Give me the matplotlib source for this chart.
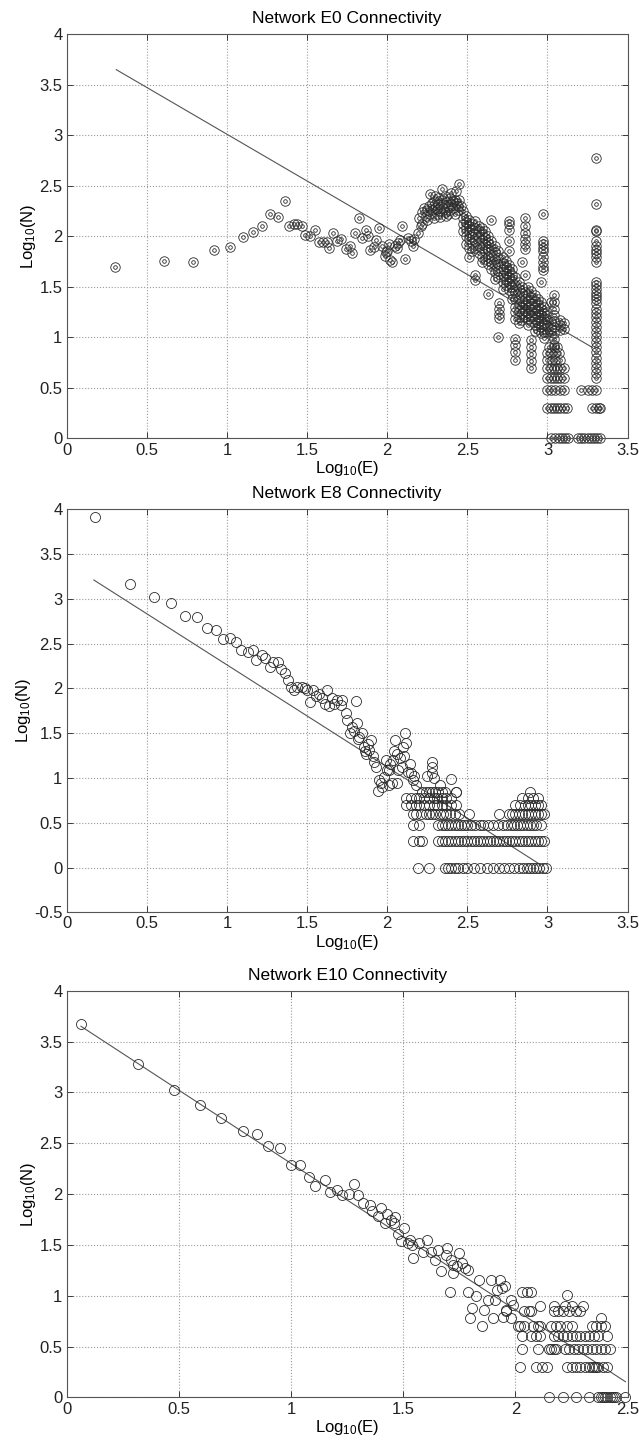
import numpy as np
import matplotlib
matplotlib.use("Agg")
import matplotlib.pyplot as plt

plt.rcParams['font.family'] = ['Liberation Sans', 'DejaVu Sans']
plt.rcParams['mathtext.fontset'] = 'custom'
plt.rcParams['mathtext.rm'] = 'Liberation Sans'
plt.rcParams['mathtext.it'] = 'Liberation Sans'

# ---------------- Network E0 ----------------
e0_fit_x = [0.31, 3.28]
e0_fit_y = [3.65, 0.90]

# sparse rise and first peak
e0_x = [0.30, 0.61, 0.79, 0.92, 1.02, 1.10, 1.16, 1.22, 1.27, 1.32, 1.36, 1.39,
        1.42, 1.44, 1.47, 1.49, 1.52, 1.55, 1.575, 1.60, 1.626, 1.64, 1.665,
        1.69, 1.715, 1.74, 1.765, 1.78, 1.80, 1.825, 1.84, 1.87, 1.88, 1.895,
        1.93, 1.95, 1.97, 1.985, 2.00, 2.02, 2.03, 2.05, 2.07, 2.09, 2.11,
        2.13, 2.16, 2.19, 2.20, 2.21, 2.22, 2.23, 2.24, 2.25, 2.26, 2.27,
        2.27, 2.28, 2.29, 2.30, 2.30, 2.31, 2.32, 2.33, 2.34, 2.34, 2.35,
        2.36, 2.37, 2.37, 2.38, 2.39, 2.39, 2.40, 2.40, 2.41, 2.42, 2.42,
        2.43, 2.43, 2.44, 2.44, 2.45, 2.45, 2.46, 2.22, 2.25, 2.28, 2.31,
        2.33, 2.35, 2.38, 2.41, 2.36, 2.32, 2.29, 2.15, 2.17, 2.06, 2.08,
        1.92, 1.99, 2.01]
e0_y = [1.70, 1.76, 1.75, 1.86, 1.89, 1.99, 2.04, 2.10, 2.22, 2.19, 2.35, 2.10,
        2.12, 2.12, 2.10, 2.01, 2.00, 2.06, 1.94, 1.94, 1.94, 1.88, 2.03,
        1.95, 1.97, 1.87, 1.90, 1.83, 2.03, 2.18, 1.98, 2.06, 2.00, 1.86,
        1.96, 2.08, 1.90, 1.81, 1.85, 1.77, 1.75, 1.90, 1.93, 2.10, 1.78,
        1.98, 1.90, 2.03, 2.18, 2.10, 2.24, 2.28, 2.20, 2.16, 2.30, 2.42,
        2.22, 2.26, 2.18, 2.40, 2.28, 2.22, 2.32, 2.25, 2.47, 2.36, 2.28,
        2.24, 2.34, 2.20, 2.30, 2.38, 2.26, 2.43, 2.32, 2.28, 2.36, 2.22,
        2.45, 2.33, 2.30, 2.26, 2.52, 2.36, 2.30, 2.12, 2.26, 2.33, 2.27,
        2.19, 2.32, 2.22, 2.35, 2.40, 2.38, 2.35, 1.95, 1.97, 1.88, 1.96,
        1.89, 1.84, 1.92]

# descending band, grouped by column
e0_band_x = [2.47, 2.49, 2.51, 2.53, 2.55, 2.57, 2.59, 2.61, 2.63, 2.65, 2.67,
             2.69, 2.70, 2.72, 2.74, 2.76, 2.78, 2.80, 2.82, 2.84, 2.86, 2.88,
             2.90, 2.92, 2.94, 2.96, 2.97, 2.98, 3.00, 3.02, 3.04, 3.08, 3.10]
e0_band_y = [
    [2.25, 2.18, 2.12, 2.05],
    [2.20, 2.14, 2.08, 2.00, 1.92],
    [2.16, 2.10, 2.04, 1.97, 1.88, 1.80],
    [2.12, 2.06, 1.99, 1.93, 1.85],
    [2.15, 2.08, 2.02, 1.95, 1.88, 1.62, 1.57],
    [2.10, 2.05, 1.98, 1.90, 1.83],
    [2.08, 2.02, 1.96, 1.88, 1.80, 1.75],
    [2.05, 1.98, 1.92, 1.85, 1.78],
    [2.00, 1.93, 1.87, 1.80, 1.73, 1.43],
    [2.16, 1.95, 1.88, 1.82, 1.75, 1.68],
    [1.90, 1.84, 1.78, 1.72, 1.65, 1.58],
    [1.85, 1.79, 1.73, 1.66, 1.60, 1.00],
    [1.34, 1.28, 1.23, 1.19],
    [1.80, 1.74, 1.68, 1.62, 1.55, 1.48],
    [1.76, 1.70, 1.64, 1.58, 1.52],
    [2.15, 2.12, 2.06, 1.95, 1.85, 1.72, 1.66, 1.60, 1.54, 1.47],
    [1.68, 1.62, 1.56, 1.50, 1.44, 1.38],
    [1.60, 1.52, 1.45, 1.38, 1.30, 1.25, 1.18, 0.98, 0.92, 0.85, 0.78],
    [1.55, 1.48, 1.40, 1.33, 1.26, 1.20, 1.14],
    [1.75, 1.50, 1.44, 1.36, 1.30, 1.24, 1.17],
    [2.18, 2.10, 2.03, 1.97, 1.92, 1.87, 1.62, 1.45, 1.38, 1.32, 1.26, 1.20],
    [1.50, 1.42, 1.36, 1.30, 1.24, 1.18, 1.12],
    [1.46, 1.40, 1.34, 1.28, 1.22, 1.16, 0.97, 0.90, 0.84, 0.77, 0.70],
    [1.42, 1.36, 1.30, 1.24, 1.18, 1.12, 1.06],
    [1.38, 1.32, 1.26, 1.20, 1.14, 1.08],
    [1.55, 1.35, 1.28, 1.22, 1.16, 1.10, 1.04],
    [2.22, 1.95, 1.92, 1.88, 1.85, 1.80, 1.75, 1.70, 1.67],
    [1.30, 1.24, 1.18, 1.12, 1.05, 0.99],
    [1.25, 1.18, 1.12, 1.05],
    [1.35, 1.15, 1.08, 1.02],
    [1.42, 1.35, 1.28, 1.22, 1.16, 1.10, 1.04, 0.98, 0.92],
    [1.17, 1.12, 1.07],
    [1.14, 1.08],
]

# discrete low-count rows (log10 of 1..8)
e0_levels = [0.0, 0.301, 0.477, 0.602, 0.699, 0.778, 0.845, 0.903]
e0_level_x = [
    [3.02, 3.05, 3.07, 3.09, 3.11, 3.13, 3.19, 3.21, 3.23, 3.25, 3.27, 3.29, 3.31, 3.33],
    [3.00, 3.02, 3.04, 3.06, 3.08, 3.10, 3.12, 3.28, 3.30, 3.32, 3.33],
    [3.00, 3.02, 3.05, 3.08, 3.10, 3.21, 3.25, 3.28, 3.30],
    [3.00, 3.02, 3.04, 3.06, 3.08, 3.10],
    [3.00, 3.02, 3.04, 3.06, 3.08, 3.10],
    [3.00, 3.03, 3.05, 3.08],
    [3.00, 3.02, 3.05, 3.07],
    [3.01, 3.04, 3.06],
]

# tall column at the far right
e0_col_x = 3.30
e0_col_y = [2.78, 2.32, 2.06, 2.05, 1.95, 1.90, 1.86, 1.83, 1.80, 1.75, 1.55, 1.52,
            1.48, 1.44, 1.41, 1.38, 1.34, 1.28, 1.24, 1.20, 1.15, 1.10, 1.05, 1.00,
            0.95, 0.90, 0.85, 0.80, 0.75, 0.70, 0.65, 0.60]

# ---------------- Network E8 ----------------
e8_fit_x = [0.17, 2.94]
e8_fit_y = [3.21, 0.05]

e8_x = [0.176, 0.396, 0.546, 0.654, 0.74, 0.814, 0.873, 0.932, 0.975, 1.02, 1.06,
        1.09, 1.13, 1.16, 1.18, 1.22, 1.24, 1.27, 1.29, 1.32, 1.34, 1.36, 1.38,
        1.40, 1.42, 1.44, 1.47, 1.49, 1.50, 1.52, 1.54, 1.555, 1.575, 1.595,
        1.61, 1.625, 1.64, 1.657, 1.67, 1.69, 1.71, 1.72, 1.74, 1.75, 1.77,
        1.78, 1.805, 1.81, 1.825, 1.84, 1.855, 1.87, 1.885, 1.90, 1.91, 1.93,
        1.945, 1.96, 1.98, 2.00, 2.01, 2.02, 2.035, 2.05, 2.06, 2.07, 2.09,
        2.105, 2.11, 2.12, 2.14, 2.15, 2.16, 2.06, 2.01, 1.97, 2.03, 2.10,
        2.13, 1.99, 2.04, 2.08, 1.95, 1.88, 1.82, 1.79, 1.86, 1.92, 2.17,
        2.18, 2.28, 2.28, 2.28, 2.29, 2.40, 2.43, 2.25, 2.33]
e8_y = [3.91, 3.16, 3.02, 2.95, 2.81, 2.80, 2.67, 2.65, 2.55, 2.56, 2.52,
        2.43, 2.41, 2.43, 2.32, 2.37, 2.34, 2.24, 2.30, 2.30, 2.22, 2.17, 2.09,
        2.02, 1.98, 2.01, 2.02, 2.00, 1.98, 1.85, 1.98, 1.91, 1.94, 1.89,
        1.83, 1.98, 1.80, 1.89, 1.83, 1.87, 1.81, 1.87, 1.72, 1.65, 1.50,
        1.57, 1.86, 1.61, 1.46, 1.50, 1.35, 1.27, 1.31, 1.42, 1.24, 1.12,
        0.85, 0.94, 1.01, 1.09, 0.92, 1.16, 1.20, 1.42, 1.27, 1.09, 1.12,
        1.24, 1.50, 1.39, 1.16, 1.05, 0.98, 0.94, 1.09, 0.90, 0.94, 1.35,
        1.07, 1.20, 1.30, 1.22, 0.98, 1.38, 1.44, 1.52, 1.30, 1.18, 1.02,
        0.92, 1.18, 1.12, 1.06, 1.00, 0.99, 0.84, 1.02, 0.92]

e8_levels = [0.0, 0.301, 0.477, 0.602, 0.699, 0.778, 0.845]
e8_level_x = [
    [2.19, 2.26, 2.36, 2.38, 2.40, 2.42, 2.44, 2.47, 2.50, 2.54, 2.58, 2.62,
     2.66, 2.70, 2.73, 2.76, 2.79, 2.82, 2.85, 2.87, 2.89, 2.91, 2.93, 2.95,
     2.97, 2.99],
    [2.16, 2.20, 2.22, 2.32, 2.34, 2.36, 2.38, 2.40, 2.42, 2.44, 2.46, 2.48,
     2.50, 2.52, 2.54, 2.56, 2.58, 2.60, 2.62, 2.64, 2.66, 2.68, 2.70, 2.72,
     2.74, 2.76, 2.78, 2.80, 2.82, 2.84, 2.86, 2.88, 2.90, 2.92, 2.94, 2.96,
     2.98],
    [2.16, 2.20, 2.32, 2.34, 2.36, 2.38, 2.40, 2.42, 2.44, 2.46, 2.48, 2.50,
     2.52, 2.55, 2.58, 2.60, 2.63, 2.66, 2.69, 2.72, 2.75, 2.77, 2.79, 2.81,
     2.83, 2.85, 2.87, 2.89, 2.91, 2.93, 2.96],
    [2.16, 2.18, 2.21, 2.24, 2.26, 2.28, 2.30, 2.33, 2.35, 2.37, 2.39, 2.42,
     2.45, 2.51, 2.70, 2.76, 2.78, 2.80, 2.82, 2.84, 2.86, 2.88, 2.90, 2.92,
     2.94, 2.96, 2.98],
    [2.12, 2.15, 2.18, 2.20, 2.23, 2.26, 2.29, 2.31, 2.34, 2.37, 2.40, 2.43,
     2.80, 2.83, 2.86, 2.88, 2.90, 2.92, 2.94, 2.96],
    [2.12, 2.15, 2.18, 2.20, 2.23, 2.26, 2.29, 2.31, 2.34, 2.37, 2.40,
     2.84, 2.88, 2.91, 2.94],
    [2.22, 2.24, 2.26, 2.28, 2.30, 2.32, 2.34, 2.36, 2.43, 2.89],
]

# ---------------- Network E10 ----------------
e10_fit_x = [0.064, 2.49]
e10_fit_y = [3.65, 0.154]

e10_x = [0.064, 0.319, 0.478, 0.593, 0.688, 0.785, 0.849, 0.898, 0.949, 1.00,
         1.04, 1.078, 1.108, 1.15, 1.173, 1.204, 1.228, 1.259, 1.279, 1.30,
         1.32, 1.35, 1.363, 1.387, 1.40, 1.418, 1.43, 1.447, 1.46, 1.465,
         1.478, 1.49, 1.505, 1.52, 1.545, 1.57, 1.587, 1.606, 1.624, 1.64,
         1.655, 1.67, 1.69, 1.697, 1.71, 1.715, 1.724, 1.74, 1.75, 1.76,
         1.775, 1.788, 1.788, 1.797, 1.807, 1.825, 1.838, 1.85, 1.86, 1.88,
         1.89, 1.90, 1.907, 1.916, 1.93, 1.943, 1.953, 1.96, 1.98, 1.99,
         2.03, 2.05, 2.07, 2.23, 2.11, 2.17, 2.22, 2.25, 2.30, 1.98, 1.96,
         2.38, 1.54, 1.53, 1.72, 1.94]
e10_y = [3.67, 3.28, 3.02, 2.88, 2.75, 2.62, 2.59, 2.47, 2.45, 2.29,
         2.29, 2.17, 2.08, 2.14, 2.02, 2.04, 1.99, 2.00, 2.10, 1.99,
         1.91, 1.89, 1.83, 1.78, 1.86, 1.71, 1.80, 1.74, 1.71, 1.77,
         1.61, 1.54, 1.67, 1.52, 1.37, 1.52, 1.43, 1.55, 1.43, 1.35,
         1.45, 1.24, 1.40, 1.47, 1.04, 1.35, 1.22, 1.29, 1.42, 1.32,
         1.27, 1.25, 1.04, 0.78, 0.875, 1.00, 1.15, 0.70, 0.86, 0.96,
         1.15, 0.78, 0.96, 1.06, 1.15, 0.79, 1.10, 0.86, 0.96, 0.91,
         1.04, 1.04, 1.04, 1.01, 0.90, 0.90, 0.90, 0.90, 0.90, 0.78, 0.85,
         0.78, 1.50, 1.55, 1.30, 1.08]

e10_levels = [0.0, 0.301, 0.477, 0.602, 0.699, 0.845]
e10_level_x = [
    [2.15, 2.21, 2.27, 2.33, 2.37, 2.38, 2.39, 2.40, 2.41, 2.42, 2.43, 2.44,
     2.45, 2.49],
    [2.02, 2.09, 2.12, 2.14, 2.23, 2.25, 2.27, 2.29, 2.31, 2.33, 2.34, 2.35,
     2.36, 2.37, 2.39, 2.41],
    [2.03, 2.10, 2.15, 2.16, 2.17, 2.18, 2.22, 2.24, 2.26, 2.28, 2.30, 2.32,
     2.34, 2.36, 2.38, 2.40, 2.42],
    [2.03, 2.07, 2.09, 2.11, 2.17, 2.19, 2.21, 2.23, 2.25, 2.27, 2.29, 2.31,
     2.33, 2.35, 2.37, 2.41],
    [2.01, 2.02, 2.04, 2.08, 2.10, 2.11, 2.16, 2.18, 2.20, 2.23, 2.25, 2.34,
     2.36, 2.38, 2.40],
    [2.04, 2.06, 2.07, 2.17, 2.19, 2.21, 2.24, 2.27, 2.29],
]

# ---------------------------------------------------------------------------
EDGE = '#2a2a2a'


def style_axes(ax, xlim, ylim, xticks, yticks, title):
    ax.set_xlim(xlim)
    ax.set_ylim(ylim)
    ax.set_xticks(xticks)
    ax.set_yticks(yticks)
    ax.set_xticklabels([('%g' % t) for t in xticks])
    ax.set_yticklabels([('%g' % t) for t in yticks])
    ax.grid(True, linestyle=':', color='#9a9a9a', linewidth=0.8)
    ax.tick_params(direction='in', top=True, right=True, length=4,
                   labelsize=12, colors='#222222', width=0.6, pad=3)
    for s in ax.spines.values():
        s.set_color('#555555')
        s.set_linewidth(0.8)
    ax.set_title(title, fontsize=12.5, pad=8)
    ax.set_xlabel('Log$_{10}$(E)', fontsize=12, labelpad=1)
    ax.set_ylabel('Log$_{10}$(N)', fontsize=12, labelpad=1)


def rows_to_points(levels, level_x):
    xs, ys = [], []
    for lv, row in zip(levels, level_x):
        xs.extend(row)
        ys.extend([lv] * len(row))
    return xs, ys


def circles(ax, x, y, ms, double=False):
    ax.plot(x, y, 'o', ls='none', mfc='none', mec=EDGE, ms=ms, mew=0.6)
    if double:
        ax.plot(x, y, 'o', ls='none', mfc='none', mec=EDGE, ms=2.6, mew=0.6)


fig = plt.figure(figsize=(6.39, 14.41), dpi=100)
ax1 = fig.add_axes([0.1042, 0.6958, 0.878, 0.2804])
ax2 = fig.add_axes([0.1042, 0.3669, 0.878, 0.2797])
ax3 = fig.add_axes([0.1042, 0.0303, 0.878, 0.2822])

# E0
bx, by = [], []
for x, col in zip(e0_band_x, e0_band_y):
    bx.extend([x] * len(col))
    by.extend(col)
lx, ly = rows_to_points(e0_levels, e0_level_x)
all_x = e0_x + bx + lx + [e0_col_x] * len(e0_col_y)
all_y = e0_y + by + ly + e0_col_y
ax1.plot(e0_fit_x, e0_fit_y, color='#555555', lw=0.8)
circles(ax1, all_x, all_y, 6.8, double=True)
style_axes(ax1, (0, 3.5), (0, 4), np.arange(0, 3.51, 0.5), np.arange(0, 4.01, 0.5),
           'Network E0 Connectivity')

# E8
lx, ly = rows_to_points(e8_levels, e8_level_x)
ax2.plot(e8_fit_x, e8_fit_y, color='#555555', lw=0.8)
circles(ax2, e8_x + lx, e8_y + ly, 7.2)
style_axes(ax2, (0, 3.5), (-0.5, 4), np.arange(0, 3.51, 0.5), np.arange(-0.5, 4.01, 0.5),
           'Network E8 Connectivity')

# E10
lx, ly = rows_to_points(e10_levels, e10_level_x)
ax3.plot(e10_fit_x, e10_fit_y, color='#555555', lw=0.8)
circles(ax3, e10_x + lx, e10_y + ly, 7.2)
style_axes(ax3, (0, 2.5), (0, 4), np.arange(0, 2.51, 0.5), np.arange(0, 4.01, 0.5),
           'Network E10 Connectivity')

for ax in (ax1, ax2, ax3):
    for art in ax.lines:
        art.set_clip_on(False)

fig.savefig('out.png', dpi=100, facecolor='white')
